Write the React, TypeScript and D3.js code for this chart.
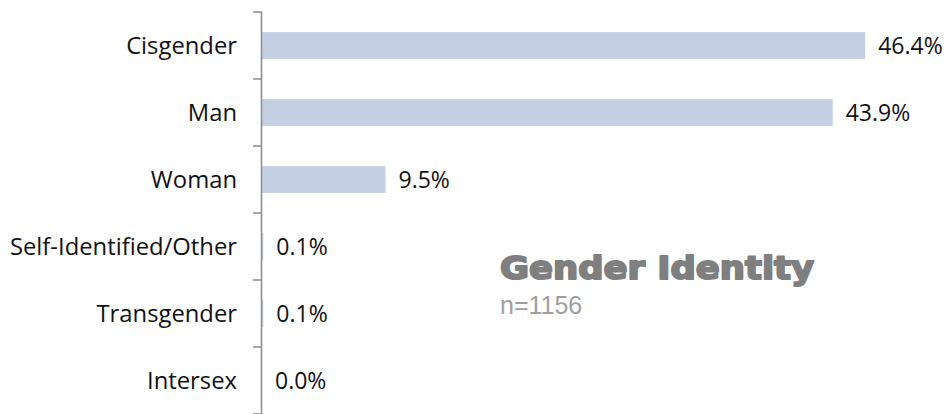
import React from "react";
import * as d3 from "d3";

const categories = ["Cisgender", "Man", "Woman", "Self-Identified/Other", "Transgender", "Intersex"];
const values = [46.4, 43.9, 9.5, 0.1, 0.1, 0.0];
const title = "Gender Identity";
const subtitle = "n=1156";

const W = 946;
const H = 414;

export default function App() {
  const axisX = 262;
  const x = d3.scaleLinear().domain([0, 50]).range([axisX, axisX + 650]);
  const y = d3.scaleBand<string>().domain(categories).range([12, 414]).paddingInner(0).paddingOuter(0);
  const step = y.step();
  const barH = step * 0.4;
  const labelFont = "'Open Sans', sans-serif";
  const tickYs = categories.map((c) => y(c) as number).concat([(y(categories[categories.length - 1]) as number) + step]);

  return (
    <svg width={W} height={H} style={{ position: "absolute", left: 0, top: 0, background: "#fff" }}>
      {categories.map((c, i) => {
        const cy = (y(c) as number) + step / 2;
        return (
          <g key={c}>
            <rect x={x(0)} y={cy - barH / 2} width={x(values[i]) - x(0)} height={barH} fill="#C5CFE3" />
            <text x={axisX - 25} y={cy} dy="0.35em" textAnchor="end" fontFamily={labelFont} fontSize={23.8} fill="#111">
              {c}
            </text>
            <text x={x(values[i]) + 13} y={cy} dy="0.35em" textAnchor="start" fontFamily={labelFont} fontSize={23} fill="#111">
              {d3.format(".1f")(values[i]) + "%"}
            </text>
          </g>
        );
      })}
      <line x1={axisX - 0.5} x2={axisX - 0.5} y1={12} y2={H} stroke="#8c8c8c" strokeWidth={1.5} />
      {tickYs.map((t, i) => (
        <line key={i} x1={axisX - 9} x2={axisX} y1={t} y2={t} stroke="#8c8c8c" strokeWidth={1.5} />
      ))}
      <text
        x={500}
        y={279}
        fontFamily="'DejaVu Sans', sans-serif"
        fontWeight={700}
        fontSize={32}
        fill="#7F7F7F"
        stroke="#7F7F7F"
        strokeWidth={2}
        strokeLinejoin="round"
        textLength={314}
        lengthAdjust="spacingAndGlyphs"
      >
        {title}
      </text>
      <text x={500} y={314} fontFamily="'Liberation Sans', Arial, sans-serif" fontSize={25} fill="#9f9f9f">
        {subtitle}
      </text>
    </svg>
  );
}
